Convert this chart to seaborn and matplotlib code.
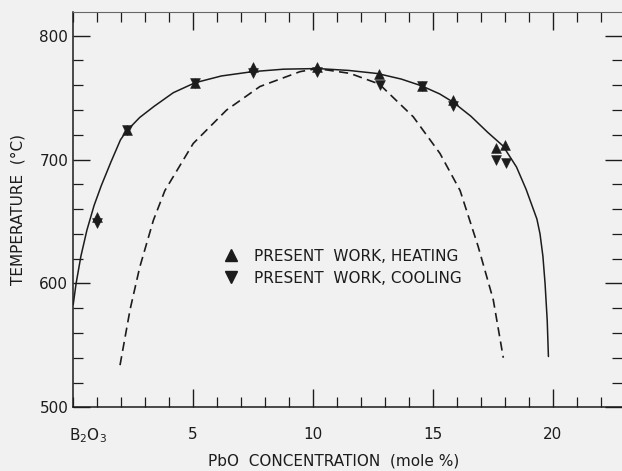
import matplotlib
matplotlib.use("Agg")
import matplotlib.pyplot as plt
from matplotlib.ticker import MultipleLocator, FixedLocator
from matplotlib.lines import Line2D
import seaborn as sns
import pandas as pd

# ---- data ----
heat_x = [1.0, 2.25, 5.1, 7.5, 10.2, 12.75, 14.55, 15.85, 17.65, 18.03]
heat_y = [653.5, 724, 762, 774.5, 775, 769, 759.5, 748, 709, 712]
cool_x = [1.0, 2.25, 5.1, 7.5, 10.2, 12.8, 14.55, 15.85, 17.65, 18.07]
cool_y = [648.5, 724, 762, 770, 770.5, 760, 759.5, 743, 700, 697]

liq_x = [0.03, 0.15, 0.35, 0.6, 0.9, 1.2, 1.6, 2.0, 2.25, 2.8, 3.4, 4.2, 5.1,
         6.2, 7.5, 8.8, 10.2, 11.5, 12.7, 13.7, 14.55, 15.3, 15.85, 16.6,
         17.3, 17.94, 18.5, 18.9, 19.2, 19.35, 19.48, 19.6, 19.69, 19.78, 19.83]
liq_y = [583, 600, 622, 643, 663, 679, 698, 716, 723, 734, 743, 754, 762,
         767.5, 771, 773, 773.5, 772, 769.5, 765, 759.5, 753, 746.5, 735,
         722, 711, 694, 676, 660, 652, 640, 622, 600, 570, 541]

dash_x = [1.98, 2.4, 2.8, 3.37, 3.85, 5.03, 6.42, 7.81, 9.48, 10.2, 11.56,
          12.78, 14.2, 15.31, 16.15, 16.9, 17.53, 17.95]
dash_y = [534, 579, 613, 651, 675, 713, 740, 759, 771, 773.5, 769.6,
          761, 734.5, 705, 675, 630, 587, 540]

xtick_vals = [5, 10, 15, 20]
xtick_labels = ["5", "10", "15", "20"]
ytick_vals = [500, 600, 700, 800]
legend_labels = ["PRESENT  WORK, HEATING", "PRESENT  WORK, COOLING"]

# ---- figure ----
sns.set_theme(style="ticks")
plt.rcParams["font.family"] = ["DejaVu Sans"]
bg = "#f1f1f1"
ink = "#1c1c1c"

W, H = 622, 471
fig = plt.figure(figsize=(W / 100, H / 100), dpi=100, facecolor=bg)
x0, ybot, ytop = 72.5, 407.3, 11.7
ax = fig.add_axes([x0 / W, 1 - ybot / H, 1 - x0 / W, (ybot - ytop) / H])
ax.set_facecolor(bg)

liq = pd.DataFrame({"x": liq_x, "y": liq_y})
dsh = pd.DataFrame({"x": dash_x, "y": dash_y})
sns.lineplot(data=liq, x="x", y="y", sort=False, estimator=None,
             color=ink, linewidth=1.1, ax=ax)
sns.lineplot(data=dsh, x="x", y="y", sort=False, estimator=None,
             color=ink, linewidth=1.2, ax=ax)
ax.lines[-1].set_linestyle((0, (5.5, 3.2)))

heat = pd.DataFrame({"x": heat_x, "y": heat_y})
cool = pd.DataFrame({"x": cool_x, "y": cool_y})
sns.scatterplot(data=heat, x="x", y="y", marker="^", s=50, color=ink,
                edgecolor=ink, linewidth=0.4, ax=ax, zorder=5)
sns.scatterplot(data=cool, x="x", y="y", marker="v", s=50, color=ink,
                edgecolor=ink, linewidth=0.4, ax=ax, zorder=5)

ax.set_xlim(0, (W - x0) / 24.0)
ax.set_ylim(500, 819.4)

ax.xaxis.set_major_locator(FixedLocator(xtick_vals))
ax.set_xticklabels(xtick_labels)
ax.xaxis.set_minor_locator(MultipleLocator(1))
ax.yaxis.set_major_locator(FixedLocator(ytick_vals))
ax.yaxis.set_minor_locator(MultipleLocator(20))

ax.tick_params(which="both", direction="in", top=True, right=True,
               colors=ink, labelcolor=ink, labelsize=11)
ax.tick_params(axis="x", which="major", length=13, width=1.0, pad=14)
ax.tick_params(axis="x", which="minor", length=7, width=0.9)
ax.tick_params(axis="y", which="major", length=12, width=1.0, pad=3)
ax.tick_params(axis="y", which="minor", length=7, width=0.9)

for side in ["left", "bottom"]:
    ax.spines[side].set_color(ink)
    ax.spines[side].set_linewidth(1.1)
ax.spines["top"].set_color("#666666")
ax.spines["top"].set_linewidth(0.8)
ax.spines["right"].set_visible(False)

ax.annotate("B$_2$O$_3$", xy=(0.65, 0), xycoords=("data", "axes fraction"),
            xytext=(0, -14), textcoords="offset points", ha="center", va="top",
            fontsize=11, color=ink)

ax.set_xlabel("PbO  CONCENTRATION  (mole %)", fontsize=11, color=ink)
ax.xaxis.set_label_coords(0.476, -0.118)
ax.set_ylabel("TEMPERATURE  (°C)", fontsize=11, color=ink)
ax.yaxis.set_label_coords(-0.086, 0.5)

handles = [Line2D([], [], marker="^", linestyle="none", color=ink, markersize=8),
           Line2D([], [], marker="v", linestyle="none", color=ink, markersize=8)]
ax.legend(handles, legend_labels, loc="upper left", frameon=False,
          bbox_to_anchor=((216 - x0) / (W - x0), (ybot - 241) / (ybot - ytop)),
          bbox_transform=ax.transAxes, fontsize=11, handletextpad=1.0,
          labelspacing=0.45, handlelength=1.0, borderpad=0, labelcolor=ink)

fig.savefig("out.png", dpi=100, facecolor=bg)
